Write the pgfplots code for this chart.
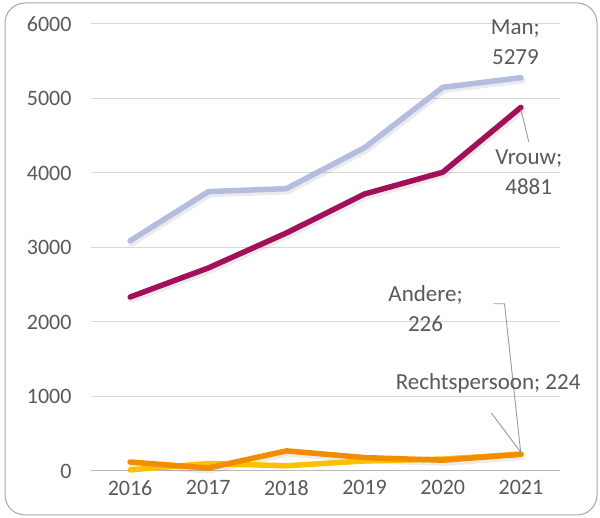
\documentclass[border=0pt]{standalone}
\usepackage{fontspec}
\setmainfont{Carlito}
\usepackage{pgfplots}
\pgfplotsset{compat=1.18}
\definecolor{man}{HTML}{B4BCE0}
\definecolor{vrouw}{HTML}{A3105A}
\definecolor{rechts}{HTML}{F28C00}
\definecolor{andere}{HTML}{FFC000}
\definecolor{txt}{HTML}{595959}
\definecolor{gridc}{HTML}{D9D9D9}
\begin{document}
\begin{tikzpicture}[x=1pt,y=1pt]
\useasboundingbox (0,0) rectangle (600,518);
\draw[gray!70, line width=1pt, rounded corners=20pt] (5,3) rectangle (597,515);
\begin{axis}[
  at={(91pt,47pt)}, anchor=south west,
  scale only axis, width=469pt, height=447pt,
  xmin=-0.5, xmax=5.5, ymin=0, ymax=6000,
  xtick={0,...,5}, xticklabels={2016,2017,2018,2019,2020,2021},
  ytick={0,1000,...,6000},
  ymajorgrids=true, xmajorgrids=false,
  major grid style={draw=gridc, line width=1pt},
  axis line style={draw=none},
  major tick length=0pt,
  tick label style={font=\fontsize{22}{24}\selectfont, text=txt},
  /pgf/number format/assume math mode=true,
  /pgf/number format/1000 sep={},
  yticklabel style={xshift=-16pt},
  xticklabel style={yshift=-6pt},
  clip=false,
  every axis plot/.append style={line width=5.5pt, line join=round, line cap=round, mark=none},
]
\draw[gray!55, line width=1pt] (axis cs:-0.5,0) -- (axis cs:5.5,0);
% shadows
\addplot[black, opacity=0.08, line width=6.5pt, shift={(1.5pt,-2.5pt)}] coordinates {(0,3090) (1,3750) (2,3790) (3,4340) (4,5150) (5,5279)};
\addplot[black, opacity=0.08, line width=6.5pt, shift={(1.5pt,-2.5pt)}] coordinates {(0,2335) (1,2725) (2,3195) (3,3718) (4,4010) (5,4881)};
\addplot[black, opacity=0.08, line width=6.5pt, shift={(1.5pt,-2.5pt)}] coordinates {(0,120) (1,40) (2,270) (3,180) (4,145) (5,224)};
% series
\addplot[man] coordinates {(0,3090) (1,3750) (2,3790) (3,4340) (4,5150) (5,5279)};
\addplot[vrouw] coordinates {(0,2335) (1,2725) (2,3195) (3,3718) (4,4010) (5,4881)};
\addplot[andere] coordinates {(0,15) (1,100) (2,70) (3,135) (4,160) (5,226)};
\addplot[rechts] coordinates {(0,120) (1,40) (2,270) (3,180) (4,145) (5,224)};
% leader lines
\draw[gray!80, line width=0.9pt] (axis cs:4.65,2245) -- (axis cs:4.79,2245) -- (axis cs:5,226);
\draw[gray!80, line width=0.9pt] (axis cs:4.62,780) -- (axis cs:5,250);
\draw[gray!80, line width=0.9pt] (axis cs:5,4850) -- (axis cs:5.1,4420);
% labels
\begin{scope}[every node/.style={font=\fontsize{23}{30}\selectfont, text=txt, align=center}]
\node at (axis cs:4.93,5760) {Man;\\5279};
\node at (axis cs:5.1,4010) {Vrouw;\\4881};
\node at (axis cs:3.78,2180) {Andere;\\226};
\node at (axis cs:4.58,1180) {Rechtspersoon; 224};
\end{scope}
\end{axis}
\end{tikzpicture}
\end{document}
